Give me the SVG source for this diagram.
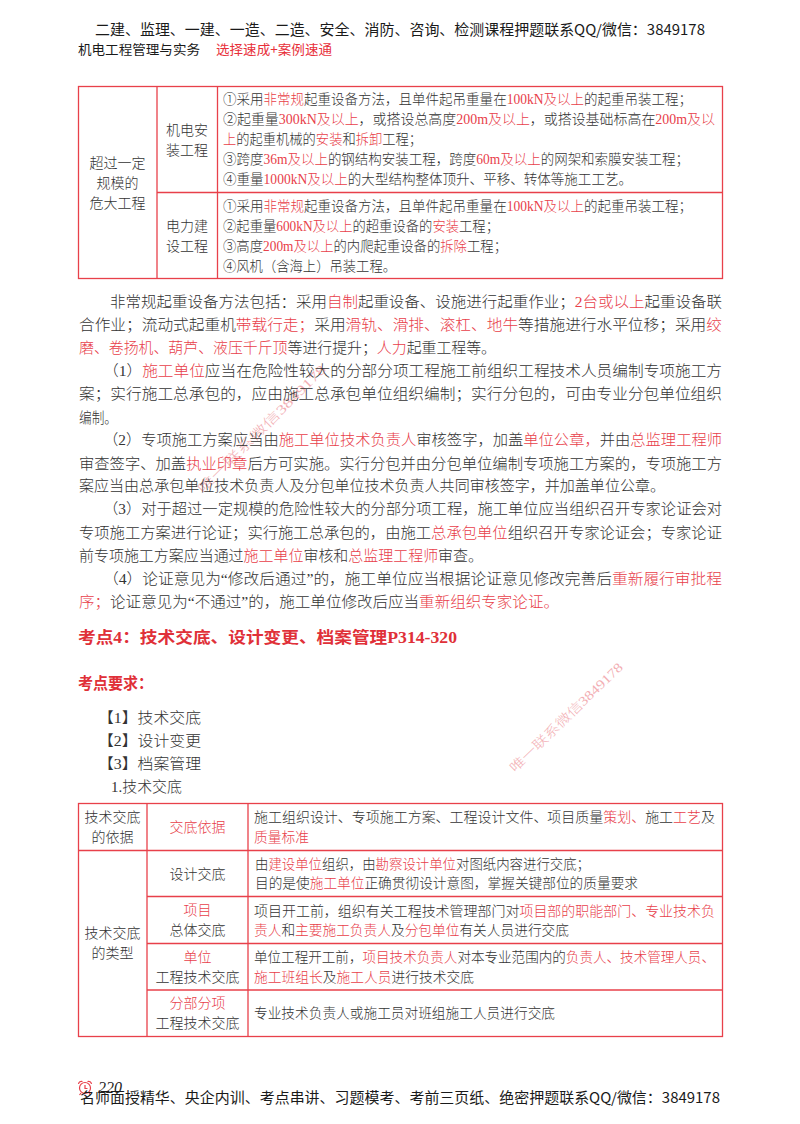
<svg xmlns="http://www.w3.org/2000/svg" width="800" height="1124" viewBox="0 0 800 1124">
<style>
text{font-family:"Liberation Serif","Noto Sans CJK SC",serif;font-size:14px;fill:#333;font-weight:300}
tspan.r{fill:#e8404a}
text.r{fill:#e8404a}
.b{font-size:15px}
.c{text-anchor:middle}
.h{font-family:"Noto Sans CJK SC","Liberation Sans",sans-serif;font-size:14.5px;fill:#1a1a1a;font-weight:400}
.t{font-weight:700;fill:#e03038;font-size:16px}
.w{font-size:13px;fill:#e8606a;opacity:.5}
line,rect.g{stroke:#e8404a;stroke-width:1.3;fill:none}
</style>
<rect width="800" height="1124" fill="#fff"/>
<g id="watermarks">
<text class="w" transform="translate(515,773) rotate(-44)" textLength="151" lengthAdjust="spacingAndGlyphs">唯一联系微信3849178</text>
<text class="w" transform="translate(203,494) rotate(-45)" textLength="175" lengthAdjust="spacingAndGlyphs" opacity=".35">唯一联系微信3849178</text>
</g>
<g id="header">
<text class="h" x="95" y="35" textLength="610" lengthAdjust="spacingAndGlyphs">二建、监理、一建、一造、二造、安全、消防、咨询、检测课程押题联系QQ/微信：3849178</text>
<text class="h" x="78" y="54" style="font-size:13px" textLength="122" lengthAdjust="spacingAndGlyphs">机电工程管理与实务</text>
<text class="h r" x="216" y="54" style="font-size:13px;fill:#e8303a" textLength="116" lengthAdjust="spacingAndGlyphs">选择速成+案例速通</text>
</g>
<g id="table1">
<rect class="g" x="78.5" y="86.5" width="644" height="192"/>
<line x1="157" y1="86.5" x2="157" y2="278.5"/>
<line x1="217.5" y1="86.5" x2="217.5" y2="278.5"/>
<line x1="157" y1="192.5" x2="722.5" y2="192.5"/>
<text class="c" x="117.5" y="168">超过一定</text>
<text class="c" x="117.5" y="188">规模的</text>
<text class="c" x="117.5" y="208">危大工程</text>
<text class="c" x="187" y="135">机电安</text>
<text class="c" x="187" y="155">装工程</text>
<text class="c" x="187" y="231">电力建</text>
<text class="c" x="187" y="251">设工程</text>
<text x="223" y="104" textLength="469" lengthAdjust="spacingAndGlyphs">①采用<tspan class="r">非常规</tspan>起重设备方法，且单件起吊重量在<tspan class="r">100kN及以上</tspan>的起重吊装工程；</text>
<text x="223" y="124" textLength="492" lengthAdjust="spacingAndGlyphs">②起重量<tspan class="r">300kN及以上</tspan>，或搭设总高度<tspan class="r">200m及以上</tspan>，或搭设基础标高在<tspan class="r">200m及以</tspan></text>
<text x="223" y="144" textLength="199" lengthAdjust="spacingAndGlyphs"><tspan class="r">上</tspan>的起重机械的<tspan class="r">安装</tspan>和<tspan class="r">拆卸</tspan>工程；</text>
<text x="223" y="164" textLength="466" lengthAdjust="spacingAndGlyphs">③跨度<tspan class="r">36m及以上</tspan>的钢结构安装工程，跨度<tspan class="r">60m及以上</tspan>的网架和索膜安装工程；</text>
<text x="223" y="184" textLength="409" lengthAdjust="spacingAndGlyphs">④重量<tspan class="r">1000kN及以上</tspan>的大型结构整体顶升、平移、转体等施工工艺。</text>
<text x="223" y="211" textLength="469" lengthAdjust="spacingAndGlyphs">①采用<tspan class="r">非常规</tspan>起重设备方法，且单件起吊重量在<tspan class="r">100kN及以上</tspan>的起重吊装工程；</text>
<text x="223" y="231" textLength="276" lengthAdjust="spacingAndGlyphs">②起重量<tspan class="r">600kN及以上</tspan>的超重设备的<tspan class="r">安装</tspan>工程；</text>
<text x="223" y="251" textLength="284" lengthAdjust="spacingAndGlyphs">③高度<tspan class="r">200m及以上</tspan>的内爬起重设备的<tspan class="r">拆除</tspan>工程；</text>
<text x="223" y="271" textLength="173" lengthAdjust="spacingAndGlyphs">④风机（含海上）吊装工程。</text>
</g>
<g id="body">
<text class="b" x="110" y="306.5" textLength="612" lengthAdjust="spacingAndGlyphs">非常规起重设备方法包括：采用<tspan class="r">自制</tspan>起重设备、设施进行起重作业；<tspan class="r">2台或以上</tspan>起重设备联</text>
<text class="b" x="79" y="329.5" textLength="643" lengthAdjust="spacingAndGlyphs">合作业；流动式起重机<tspan class="r">带载行走；</tspan>采用<tspan class="r">滑轨、滑排、滚杠、地牛</tspan>等措施进行水平位移；采用<tspan class="r">绞</tspan></text>
<text class="b" x="79" y="352.5" textLength="417" lengthAdjust="spacingAndGlyphs"><tspan class="r">磨、卷扬机、葫芦、液压千斤顶</tspan>等进行提升；<tspan class="r">人力</tspan>起重工程等。</text>
<text class="b" x="103" y="376" textLength="619" lengthAdjust="spacingAndGlyphs">（1）<tspan class="r">施工单位</tspan>应当在危险性较大的分部分项工程施工前组织工程技术人员编制专项施工方</text>
<text class="b" x="79" y="399" textLength="643" lengthAdjust="spacingAndGlyphs">案；实行施工总承包的，应由施工总承包单位组织编制；实行分包的，可由专业分包单位组织</text>
<text class="b" x="79" y="422.5" textLength="38" lengthAdjust="spacingAndGlyphs">编制。</text>
<text class="b" x="103" y="445" textLength="619" lengthAdjust="spacingAndGlyphs">（2）专项施工方案应当由<tspan class="r">施工单位技术负责人</tspan>审核签字，加盖<tspan class="r">单位公章，</tspan>并由<tspan class="r">总监理工程师</tspan></text>
<text class="b" x="79" y="468.5" textLength="643" lengthAdjust="spacingAndGlyphs">审查签字、加盖<tspan class="r">执业印章</tspan>后方可实施。实行分包并由分包单位编制专项施工方案的，专项施工方</text>
<text class="b" x="79" y="491" textLength="586" lengthAdjust="spacingAndGlyphs">案应当由总承包单位技术负责人及分包单位技术负责人共同审核签字，并加盖单位公章。</text>
<text class="b" x="103" y="514" textLength="619" lengthAdjust="spacingAndGlyphs">（3）对于超过一定规模的危险性较大的分部分项工程，施工单位应当组织召开专家论证会对</text>
<text class="b" x="79" y="537.5" textLength="643" lengthAdjust="spacingAndGlyphs">专项施工方案进行论证；实行施工总承包的，由施工<tspan class="r">总承包单位</tspan>组织召开专家论证会；专家论证</text>
<text class="b" x="79" y="560.5" textLength="404" lengthAdjust="spacingAndGlyphs">前专项施工方案应当通过<tspan class="r">施工单位</tspan>审核和<tspan class="r">总监理工程师</tspan>审查。</text>
<text class="b" x="103" y="583.5" textLength="619" lengthAdjust="spacingAndGlyphs">（4）论证意见为“修改后通过”的，施工单位应当根据论证意见修改完善后<tspan class="r">重新履行审批程</tspan></text>
<text class="b" x="79" y="607" textLength="480" lengthAdjust="spacingAndGlyphs"><tspan class="r">序；</tspan>论证意见为“不通过”的，施工单位修改后应当<tspan class="r">重新组织专家论证。</tspan></text>
<text class="t" x="78" y="643" textLength="379" lengthAdjust="spacingAndGlyphs">考点4：技术交底、设计变更、档案管理P314-320</text>
<text class="t" x="78" y="689" textLength="75" lengthAdjust="spacingAndGlyphs">考点要求：</text>
<text class="b" x="98" y="723" textLength="103" lengthAdjust="spacingAndGlyphs">【1】技术交底</text>
<text class="b" x="98" y="746" textLength="103" lengthAdjust="spacingAndGlyphs">【2】设计变更</text>
<text class="b" x="98" y="769" textLength="103" lengthAdjust="spacingAndGlyphs">【3】档案管理</text>
<text class="b" x="111" y="792" textLength="71" lengthAdjust="spacingAndGlyphs">1.技术交底</text>
</g>
<g id="table2">
<rect class="g" x="78.5" y="803.5" width="644" height="233"/>
<line x1="147" y1="803.5" x2="147" y2="1036.5"/>
<line x1="248" y1="803.5" x2="248" y2="1036.5"/>
<line x1="78.5" y1="850.5" x2="722.5" y2="850.5"/>
<line x1="147" y1="896.5" x2="722.5" y2="896.5"/>
<line x1="147" y1="943.5" x2="722.5" y2="943.5"/>
<line x1="147" y1="990" x2="722.5" y2="990"/>
<text class="c" x="112.5" y="822">技术交底</text>
<text class="c" x="112.5" y="842">的依据</text>
<text class="c" x="112.5" y="938">技术交底</text>
<text class="c" x="112.5" y="958">的类型</text>
<text class="c r" x="197.5" y="832">交底依据</text>
<text class="c" x="197.5" y="878.5">设计交底</text>
<text class="c r" x="197.5" y="915">项目</text>
<text class="c" x="197.5" y="935">总体交底</text>
<text class="c r" x="197.5" y="961.5">单位</text>
<text class="c" x="197.5" y="981.5">工程技术交底</text>
<text class="c r" x="197.5" y="1008">分部分项</text>
<text class="c" x="197.5" y="1028">工程技术交底</text>
<text x="254" y="822" textLength="461" lengthAdjust="spacingAndGlyphs">施工组织设计、专项施工方案、工程设计文件、项目质量<tspan class="r">策划、</tspan>施工<tspan class="r">工艺</tspan>及</text>
<text class="r" x="254" y="842" textLength="55" lengthAdjust="spacingAndGlyphs">质量标准</text>
<text x="255" y="869" textLength="335" lengthAdjust="spacingAndGlyphs">由<tspan class="r">建设单位</tspan>组织，由<tspan class="r">勘察设计单位</tspan>对图纸内容进行交底；</text>
<text x="255" y="888" textLength="383" lengthAdjust="spacingAndGlyphs">目的是使<tspan class="r">施工单位</tspan>正确贯彻设计意图，掌握关键部位的质量要求</text>
<text x="254" y="915.5" textLength="461" lengthAdjust="spacingAndGlyphs">项目开工前，组织有关工程技术管理部门对<tspan class="r">项目部的职能部门、专业技术负</tspan></text>
<text x="254" y="935" textLength="315" lengthAdjust="spacingAndGlyphs"><tspan class="r">责人</tspan>和<tspan class="r">主要施工负责人</tspan>及<tspan class="r">分包单位</tspan>有关人员进行交底</text>
<text x="254" y="961.5" textLength="461" lengthAdjust="spacingAndGlyphs">单位工程开工前，<tspan class="r">项目技术负责人</tspan>对本专业范围内的<tspan class="r">负责人、技术管理人员、</tspan></text>
<text x="254" y="981.5" textLength="220" lengthAdjust="spacingAndGlyphs"><tspan class="r">施工班组长</tspan>及<tspan class="r">施工人员</tspan>进行技术交底</text>
<text x="254" y="1018" textLength="301" lengthAdjust="spacingAndGlyphs">专业技术负责人或施工员对班组施工人员进行交底</text>
</g>
<g id="footer">
<g id="clock" fill="none" stroke="#e8404a" stroke-width="1.2">
<circle cx="85" cy="1088" r="5.5"/>
<path d="M85 1085v3.5h2.5M78.5 1084a3 3 0 0 1 4-2.5M91.5 1084a3 3 0 0 0-4-2.5M81 1093l-1.5 2M89 1093l1.5 2"/>
</g>
<text x="98" y="1093" style="font-style:italic;font-size:16px;fill:#222">220</text>
<text class="h" x="80" y="1103" textLength="640" lengthAdjust="spacingAndGlyphs">名师面授精华、央企内训、考点串讲、习题模考、考前三页纸、绝密押题联系QQ/微信：3849178</text>
</g>
</svg>
